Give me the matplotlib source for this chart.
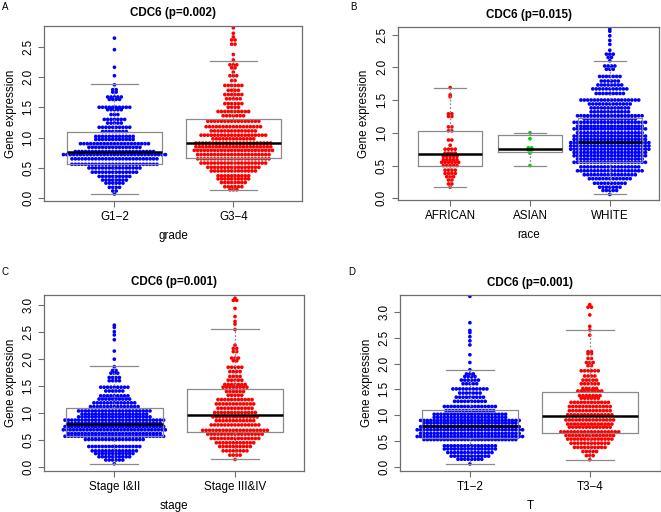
import matplotlib
matplotlib.use("Agg")
import matplotlib.pyplot as plt
import numpy as np

plt.rcParams['font.family'] = ['Liberation Sans', 'DejaVu Sans']

# ---------------- data (row levels of the swarm and number of points per row) ----------------
# Panel A : grade
g12_y = [0.07, 0.12, 0.18, 0.25, 0.30, 0.36, 0.43, 0.50, 0.56, 0.65, 0.72, 0.77, 0.84, 0.90, 0.97, 1.02,
         1.10, 1.17, 1.24, 1.30, 1.38, 1.46, 1.50, 1.63, 1.67, 1.75, 1.79, 1.87, 2.02, 2.16, 2.45, 2.64]
g12_n = [1, 2, 4, 6, 8, 10, 14, 16, 26, 26, 31, 24, 16, 21, 12, 12,
         8, 10, 5, 7, 3, 5, 10, 4, 5, 2, 2, 1, 1, 1, 1, 1]
g34_y = [0.14, 0.19, 0.26, 0.32, 0.37, 0.45, 0.51, 0.58, 0.65, 0.72, 0.79, 0.85, 0.91, 0.98, 1.04, 1.11,
         1.18, 1.27, 1.36, 1.43, 1.50, 1.56, 1.64, 1.71, 1.78, 1.86, 1.94, 2.02, 2.08, 2.15, 2.20, 2.28,
         2.37, 2.54, 2.61, 2.66, 2.72, 2.81]
g34_n = [3, 6, 8, 10, 10, 14, 16, 20, 22, 22, 24, 23, 23, 13, 20, 14,
         17, 16, 7, 10, 4, 6, 5, 6, 4, 6, 2, 3, 1, 2, 3, 1,
         1, 2, 2, 1, 1, 1]
grade_labels = ["G1\u22122", "G3\u22124"]
grade_box = [(0.07, 0.56, 0.76, 1.09, 1.88), (0.13, 0.66, 0.91, 1.31, 2.27)]  # (lo, q1, med, q3, hi)

# Panel B : race
afr_y = [0.17, 0.22, 0.28, 0.33, 0.38, 0.43, 0.50, 0.55, 0.59, 0.64, 0.69, 0.75, 0.81, 0.89,
         1.03, 1.09, 1.25, 1.29, 1.55, 1.58, 1.69]
afr_n = [1, 2, 2, 3, 4, 4, 5, 6, 5, 5, 4, 4, 1, 2, 2, 2, 2, 2, 1, 1, 1]
asi_y = [0.50, 0.69, 0.74, 0.77, 0.91, 1.00]
asi_n = [1, 1, 2, 2, 1, 1]
wht_y = [0.06, 0.12, 0.17, 0.23, 0.30, 0.36, 0.42, 0.48, 0.55, 0.60, 0.65, 0.70, 0.75, 0.80, 0.85,
         0.90, 0.95, 1.00, 1.06, 1.10, 1.16, 1.21, 1.26, 1.32, 1.38, 1.44, 1.50, 1.60, 1.67, 1.73,
         1.79, 1.86, 1.97, 2.02, 2.10, 2.15, 2.20, 2.26, 2.35, 2.41, 2.48, 2.55, 2.58]
wht_n = [1, 5, 7, 10, 13, 16, 20, 18, 22, 20, 22, 22, 24, 24, 24,
         22, 22, 20, 22, 20, 22, 16, 20, 12, 12, 13, 18, 9, 11, 8,
         6, 7, 3, 4, 1, 2, 3, 1, 1, 1, 1, 1, 1]
race_labels = ["AFRICAN", "ASIAN", "WHITE"]
race_box = [(0.17, 0.49, 0.67, 1.03, 1.69), (0.50, 0.70, 0.75, 0.96, 1.00), (0.06, 0.55, 0.86, 1.23, 2.10)]

# Panel C : stage
s12_y = [0.06, 0.13, 0.19, 0.25, 0.30, 0.38, 0.51, 0.57, 0.62, 0.69, 0.75, 0.81, 0.87, 0.93, 0.98,
         1.04, 1.12, 1.19, 1.26, 1.32, 1.41, 1.48, 1.60, 1.66, 1.74, 1.79, 1.86, 2.00, 2.15, 2.36,
         2.45, 2.51, 2.59, 2.63]
s12_n = [1, 6, 10, 12, 14, 16, 18, 30, 28, 31, 30, 28, 30, 22, 20,
         22, 15, 13, 10, 9, 6, 9, 4, 4, 3, 2, 1, 1, 1, 1,
         1, 1, 1, 1]
s34_y = [0.14, 0.22, 0.30, 0.38, 0.45, 0.53, 0.61, 0.68, 0.78, 0.86, 0.93, 1.01, 1.09, 1.17, 1.25,
         1.33, 1.40, 1.48, 1.53, 1.61, 1.68, 1.77, 1.85, 1.97, 2.02, 2.14, 2.20, 2.26, 2.55, 2.65,
         2.70, 2.79, 2.94, 3.09, 3.13]
s34_n = [1, 4, 8, 10, 12, 15, 17, 20, 15, 12, 14, 13, 11, 12, 11,
         5, 6, 8, 7, 5, 4, 4, 5, 2, 3, 2, 2, 1, 1, 1,
         1, 1, 1, 2, 1]
stage_labels = ["Stage I&II", "Stage III&IV"]
stage_box = [(0.06, 0.57, 0.79, 1.09, 1.87), (0.15, 0.655, 0.96, 1.44, 2.56)]

# Panel D : T
t12_y = [0.06, 0.15, 0.21, 0.28, 0.35, 0.41, 0.53, 0.59, 0.65, 0.72, 0.78, 0.85, 0.90, 0.96, 1.02,
         1.09, 1.17, 1.27, 1.35, 1.43, 1.51, 1.61, 1.68, 1.75, 1.80, 1.88, 2.02, 2.17, 2.36, 2.44,
         2.52, 2.60, 2.64, 2.79, 3.30]
t12_n = [1, 8, 12, 14, 16, 16, 28, 32, 30, 32, 30, 28, 30, 22, 22,
         15, 16, 10, 9, 7, 11, 5, 6, 4, 3, 1, 1, 1, 1, 1,
         1, 1, 1, 1, 1]
t34_y = [0.14, 0.22, 0.30, 0.38, 0.46, 0.54, 0.61, 0.68, 0.77, 0.83, 0.91, 1.01, 1.09, 1.17, 1.25,
         1.33, 1.38, 1.47, 1.52, 1.61, 1.68, 1.76, 1.86, 1.96, 2.02, 2.10, 2.19, 2.23, 2.55, 2.65,
         2.72, 2.94, 3.09, 3.14]
t34_n = [1, 3, 5, 10, 12, 14, 15, 18, 13, 14, 15, 14, 13, 13, 12,
         6, 7, 8, 5, 6, 5, 4, 6, 2, 3, 2, 2, 2, 1, 1,
         1, 1, 2, 1]
t_labels = ["T1\u22122", "T3\u22124"]
t_box = [(0.06, 0.56, 0.79, 1.10, 1.87), (0.14, 0.65, 0.99, 1.45, 2.65)]

BLUE, RED, GREEN = "#0000FF", "#FF0000", "#00CD00"
GRAY = "#8a8a8a"
FRAME = "#6e6e6e"

W, H = 661, 512
fig = plt.figure(figsize=(W / 100, H / 100), dpi=100)


def px_axes(l, t, r, b):
    return fig.add_axes([l / W, 1 - b / H, (r - l) / W, (b - t) / H])


def draw_panel(ax, groups, colors, boxes, labels, xlim, ylim, yticks, title, xlabel):
    ax.set_xlim(*xlim)
    ax.set_ylim(*ylim)
    bb = ax.get_window_extent()
    dx = 3.4 * (xlim[1] - xlim[0]) / bb.width
    for i, ((ys, ns), col) in enumerate(zip(groups, colors)):
        pos = i + 1
        xs, yv = [], []
        for y, n in zip(ys, ns):
            offs = (np.arange(n) - (n - 1) / 2.0) * dx
            xs.extend(pos + offs)
            yv.extend([y] * n)
        ax.scatter(xs, yv, s=7.0, color=col, edgecolors='none', zorder=2)
    stats = []
    for i, (lo, q1, med, q3, hi) in enumerate(boxes):
        stats.append(dict(whislo=lo, q1=q1, med=med, q3=q3, whishi=hi, fliers=[], label=labels[i]))
    ax.bxp(stats, positions=range(1, len(boxes) + 1), widths=0.8, showfliers=False,
           boxprops=dict(color=GRAY, lw=0.9),
           whiskerprops=dict(color=GRAY, lw=0.9, ls=(0, (1.5, 1.5))),
           capprops=dict(color=GRAY, lw=0.9),
           medianprops=dict(color="black", lw=1.8),
           capwidths=0.4, manage_ticks=False, zorder=3)
    ax.set_xticks(range(1, len(labels) + 1))
    ax.set_xticklabels(labels, fontsize=8.4)
    ax.set_yticks(yticks)
    ax.set_yticklabels([f"{v:.1f}" for v in yticks], fontsize=8.4, rotation=90, va='center')
    ax.tick_params(axis='both', direction='out', length=4.5, width=0.8, color=FRAME, pad=2.5)
    for sp in ax.spines.values():
        sp.set_color(FRAME)
        sp.set_linewidth(0.9)
    ax.set_title(title, fontsize=8.4, fontweight='bold', pad=7)
    ax.set_xlabel(xlabel, fontsize=8.4, labelpad=5)
    ax.set_ylabel("Gene expression", fontsize=8.4, labelpad=4)


axA = px_axes(44.3, 26, 302.3, 201.3)
draw_panel(axA, [(g12_y, g12_n), (g34_y, g34_n)], [BLUE, RED], grade_box, grade_labels,
           (0.41, 2.58), (-0.05, 2.84), [0.0, 0.5, 1.0, 1.5, 2.0, 2.5], "CDC6 (p=0.002)", "grade")

axB = px_axes(397.7, 27.3, 659.3, 200.3)
draw_panel(axB, [(afr_y, afr_n), (asi_y, asi_n), (wht_y, wht_n)], [RED, GREEN, BLUE], race_box,
           race_labels, (0.343, 3.62), (-0.03, 2.61), [0.0, 0.5, 1.0, 1.5, 2.0, 2.5],
           "CDC6 (p=0.015)", "race")

axC = px_axes(44.3, 295, 304.3, 471)
draw_panel(axC, [(s12_y, s12_n), (s34_y, s34_n)], [BLUE, RED], stage_box, stage_labels,
           (0.42, 2.574), (-0.074, 3.19), [0.0, 0.5, 1.0, 1.5, 2.0, 2.5, 3.0], "CDC6 (p=0.001)", "stage")

axD = px_axes(400, 295.3, 660.5, 471)
draw_panel(axD, [(t12_y, t12_n), (t34_y, t34_n)], [BLUE, RED], t_box, t_labels,
           (0.417, 2.59), (-0.077, 3.32), [0.0, 0.5, 1.0, 1.5, 2.0, 2.5, 3.0], "CDC6 (p=0.001)", "T")

for lab, x, y in [("A", 2, 7), ("B", 350, 7), ("C", 2, 272), ("D", 348, 272)]:
    fig.text(x / W, 1 - y / H, lab, fontsize=7, va='center', ha='left')

fig.savefig("out.png", dpi=100)
